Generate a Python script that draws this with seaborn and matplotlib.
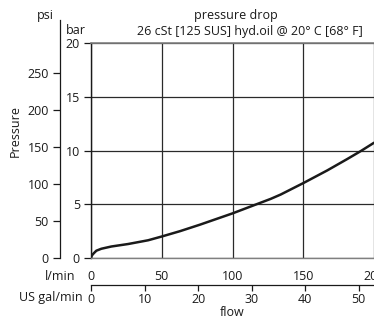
import numpy as np
import pandas as pd
import seaborn as sns
import matplotlib
import matplotlib.pyplot as plt

matplotlib.use("Agg")

# curve: flow [l/min] vs pressure drop [bar]
flow_lpm = [0, 0.5, 1, 2.1, 3.8, 7.3, 14.4, 26.2, 40.4, 50, 63, 77, 100, 118, 127,
            134, 150.5, 167, 181, 190.7, 200]
drop_bar = [0, 0.2, 0.3, 0.46, 0.68, 0.86, 1.07, 1.3, 1.65, 2.0, 2.5, 3.1, 4.15, 5.05,
            5.5, 5.9, 7.0, 8.15, 9.2, 9.95, 10.72]

bar_ticks = [0, 5, 10, 15, 20]
psi_ticks = [0, 50, 100, 150, 200, 250]
lpm_ticks = [0, 50, 100, 150, 200]
gal_ticks = [0, 10, 20, 30, 40, 50]

BAR_TO_PSI = 14.5038
GAL_TO_L = 3.785

sns.set_style("white")
plt.rcParams["font.family"] = ["Open Sans", "DejaVu Sans"]
plt.rcParams["font.size"] = 9

W, H = 374, 318
fig = plt.figure(figsize=(W / 100, H / 100), dpi=100)


def box(x0, y_top, x1, y_bot):
    return [x0 / W, 1 - y_bot / H, (x1 - x0) / W, (y_bot - y_top) / H]


# main plot, bar scale
ax = fig.add_axes(box(91, 43, 374, 258))
df = pd.DataFrame({"flow": flow_lpm, "bar": drop_bar})
sns.lineplot(data=df, x="flow", y="bar", ax=ax, color="#1a1a1a", linewidth=1.8)
ax.set_xlim(0, 200)
ax.set_ylim(0, 20)
ax.set_xticks(lpm_ticks)
ax.set_yticks(bar_ticks)
ax.grid(True, color="#2a2a2a", linewidth=0.9)
ax.set_axisbelow(True)
ax.set_xlabel("")
ax.set_ylabel("")
ax.spines["right"].set_visible(False)
ax.spines["top"].set_color("#808080")
ax.spines["top"].set_linewidth(1.2)
ax.spines["bottom"].set_color("#808080")
ax.spines["bottom"].set_linewidth(1.0)
ax.spines["left"].set_color("#1a1a1a")
ax.spines["left"].set_linewidth(1.0)
ax.tick_params(axis="y", left=True, length=5, width=0.9, color="#1a1a1a", pad=3, labelcolor="#1a1a1a")
ax.tick_params(axis="x", bottom=False, length=0, pad=9, labelcolor="#1a1a1a")

# psi axis on the far left
axp = fig.add_axes(box(60, 20, 61, 258))
axp.set_ylim(0, (258 - 20) / 10.75 * BAR_TO_PSI)
axp.set_yticks(psi_ticks)
axp.set_xticks([])
for s in ["top", "right", "bottom"]:
    axp.spines[s].set_visible(False)
axp.spines["left"].set_color("#1a1a1a")
axp.spines["left"].set_linewidth(0.9)
axp.patch.set_alpha(0)
axp.tick_params(axis="y", left=True, length=5, width=0.9, color="#1a1a1a", pad=3, labelcolor="#1a1a1a")

# US gal/min axis below
axg = fig.add_axes(box(91, 284, 374, 285))
axg.set_xlim(0, 200 / GAL_TO_L)
axg.set_xticks(gal_ticks)
axg.set_yticks([])
for s in ["top", "right", "left"]:
    axg.spines[s].set_visible(False)
axg.spines["bottom"].set_color("#1a1a1a")
axg.spines["bottom"].set_linewidth(0.9)
axg.patch.set_alpha(0)
axg.tick_params(axis="x", bottom=True, length=4, width=0.9, color="#1a1a1a", pad=2, labelcolor="#1a1a1a")

txt = dict(color="#1a1a1a", transform=fig.transFigure)
fig.text(45 / W, 1 - 15 / H, "psi", ha="center", va="center", **txt)
fig.text(76 / W, 1 - 31 / H, "bar", ha="center", va="center", **txt)
fig.text(15 / W, 1 - 131 / H, "Pressure", ha="center", va="center", rotation=90, **txt)
fig.text(236 / W, 1 - 15 / H, "pressure drop", ha="center", va="center", **txt)
fig.text(250 / W, 1 - 32 / H, "26 cSt [125 SUS] hyd.oil @ 20° C [68° F]", ha="center", va="center", **txt)
fig.text(75 / W, 1 - 277 / H, "l/min", ha="right", va="center", **txt)
fig.text(83 / W, 1 - 297 / H, "US gal/min", ha="right", va="center", **txt)
fig.text(232 / W, 1 - 312 / H, "flow", ha="center", va="center", **txt)

fig.savefig("out.png", dpi=100)
